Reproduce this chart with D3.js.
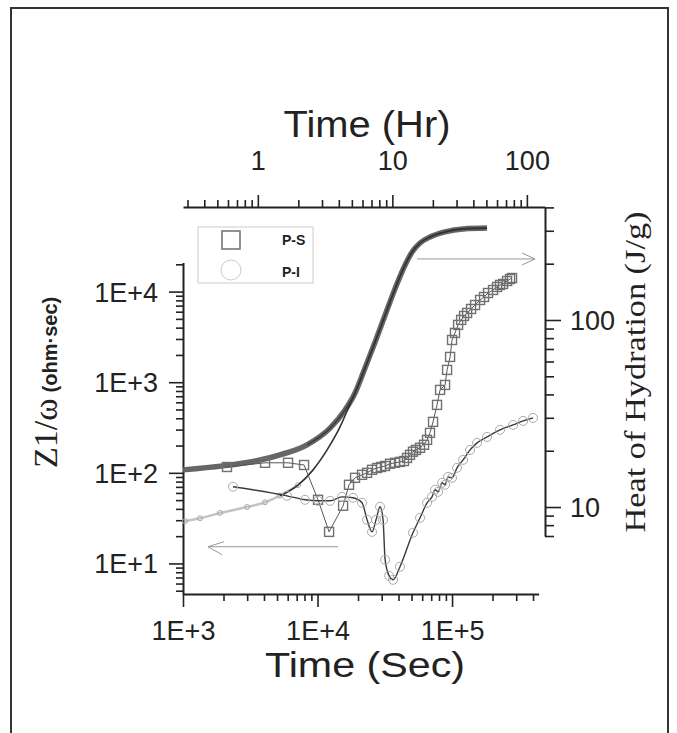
<!DOCTYPE html>
<html>
<head>
<meta charset="utf-8">
<script src="https://cdn.jsdelivr.net/npm/d3@7"></script>
<style>
  body { margin: 0; background: #fff; }
  svg { font-family: "Liberation Sans", Arial, sans-serif; }
  text { fill: #222; }
</style>
</head>
<body>
<svg id="chart" width="677" height="733"></svg>
<script>
// impedance Z1/w (ohm*sec) vs time (sec), P-S = squares
var psZ = [
  [2123,116],[4074,129],[6039,129],[7943,122],[10090,50.4],[12190,22.3],[15490,43.3],
  [17140,73.8],[19010,88.1],[21430,95],[23350,100],[25430,108],[27690,113],[29640,116],
  [31770,119],[34560,126],[37680,129],[41020,132],[43960,135],[46270,146],[48700,158],
  [51230,171],[53960,179],[57830,189],[61940,204],[65210,231],[68550,276],[72240,365],
  [77340,562],[81470,822],[88740,933],[91880,1367],[96700,1901],[100000,2924],
  [105200,3500],[110900,4290],[116800,4870],[122800,5380],[129400,5810],[138500,6430],
  [148300,7110],[161600,8080],[172900,8720],[185200,9650],[201800,10420],[216100,11250],
  [227400,11840],[239500,12140],[256400,13090],[270000,13770],[279200,14130]
];
// P-I = circles
var piZ = [
  [2355,70.2],[5929,55.7],[8070,50.4],[10090,49.1],[12390,49.1],[15210,54.3],[18370,53],
  [21430,46.7],[23350,30.3],[25430,22.3],[27230,30.3],[29170,42.2],[30710,30.3],
  [31790,11],[34040,7.3],[36430,6.6],[41020,9.2],[51230,21.8],[57830,31.9],[65210,46.7],
  [70960,54.3],[74750,65],[78750,61.7],[84320,77.6],[88740,73.8],[93400,90.3],
  [100000,88.1],[108900,113.5],[120800,139],[136200,179],[153500,214],[182100,249],
  [227400,298],[284400,338],[337500,374],[400000,404]
];
// heat of hydration (J/g) vs time (sec)
var psHeat = [
  [1000,15.8],[1985,16.6],[3150,17.4],[5260,19],[8360,21.5],[12390,26.4],[16020,33],
  [19010,40.7],[22550,55.4],[26790,76.3],[31770,106],[37680,147],[44770,197],
  [50470,231],[57830,258],[68600,278],[88740,296],[120800,307],[182000,310]
];
var piHeat = [
  [1035,8.4],[1337,8.7],[1884,9.3],[2994,10],[4074,10.6],[5262,11.5],[7160,13.1],
  [9270,15.8],[11780,20.2],[14700,26.8],[17450,35.5],[19010,40.7],[22550,55.4],
  [26790,76.3],[31770,106],[37680,147],[44770,197],[50470,231],[57830,258],
  [68600,278],[88740,296],[120800,307],[182000,310]
];

var bottomLabels = ["1E+3", "1E+4", "1E+5"];
var leftLabels = ["1E+1", "1E+2", "1E+3", "1E+4"];
var topLabels = ["1", "10", "100"];
var rightLabels = ["10", "100"];

var serif = "'Liberation Serif', 'Times New Roman', serif";
var svg = d3.select("#chart");

// frame
svg.append("rect").attr("x", 11).attr("y", 8).attr("width", 657).attr("height", 740)
  .attr("fill", "none").attr("stroke", "#333").attr("stroke-width", 2);

var x = d3.scaleLog().domain([1000, 440000]).range([183, 538.6]);
var xHr = d3.scaleLog().domain([1000 / 3600, 490000 / 3600]).range([183, x(490000)]);
var yL = d3.scaleLog().domain([4.6, 21000]).range([594, 262.4]);
var yR = d3.scaleLog().domain([7, 400]).range([536, 207.4]);

function isMajor(v) {
  var l = Math.log10(v);
  return Math.abs(l - Math.round(l)) < 1e-6;
}
function decade(v) { return Math.round(Math.log10(v)); }

function styleAxis(g) {
  g.attr("font-size", 27).attr("font-family", null);
  g.select(".domain").attr("stroke", "#222").attr("stroke-width", 2);
  g.selectAll(".tick line").attr("stroke", "#222").attr("stroke-width", 1.6);
  g.selectAll(".tick text").attr("fill", "#222");
}

// bottom axis
var gB = svg.append("g").attr("transform", "translate(0,594)")
  .call(d3.axisBottom(x).tickValues(x.ticks()).tickSize(7).tickSizeOuter(0)
    .tickFormat(function(d) { return isMajor(d) ? bottomLabels[decade(d) - 3] : ""; }));
styleAxis(gB);
gB.selectAll(".tick line").attr("y2", function(d) { return isMajor(d) ? 13 : 7; });
gB.selectAll(".tick text").attr("y", 46).attr("dy", 0);

// top axis (hours)
var gT = svg.append("g").attr("transform", "translate(0,207)")
  .call(d3.axisTop(xHr).tickValues(xHr.ticks()).tickSize(7).tickSizeOuter(0)
    .tickFormat(function(d) { return isMajor(d) ? topLabels[decade(d)] : ""; }));
styleAxis(gT);
gT.selectAll(".tick line").attr("y2", function(d) { return isMajor(d) ? -12 : -7; });
gT.selectAll(".tick text").attr("y", -37).attr("dy", 0);

// left axis
var gL = svg.append("g").attr("transform", "translate(183,0)")
  .call(d3.axisLeft(yL).tickValues(yL.ticks()).tickSize(7).tickSizeOuter(0)
    .tickFormat(function(d) { return isMajor(d) ? leftLabels[decade(d) - 1] : ""; }));
styleAxis(gL);
gL.selectAll(".tick line").attr("x2", function(d) { return isMajor(d) ? -14 : -7; });
gL.selectAll(".tick text").attr("x", -25).attr("dy", "0.35em");

// right axis
var gR = svg.append("g").attr("transform", "translate(545,0)")
  .call(d3.axisRight(yR).tickValues(yR.ticks()).tickSize(9).tickSizeOuter(0)
    .tickFormat(function(d) { return isMajor(d) ? rightLabels[decade(d) - 1] : ""; }));
styleAxis(gR);
gR.selectAll(".tick line").attr("x2", function(d) { return isMajor(d) ? 16 : 9; });
gR.selectAll(".tick text").attr("x", 25).attr("dy", "0.35em");

// axis titles
svg.append("text").attr("x", 367).attr("y", 137).attr("text-anchor", "middle")
  .attr("font-size", 36).attr("textLength", 167).attr("lengthAdjust", "spacingAndGlyphs")
  .text("Time (Hr)");
svg.append("text").attr("x", 365).attr("y", 677).attr("text-anchor", "middle")
  .attr("font-size", 35).attr("textLength", 200).attr("lengthAdjust", "spacingAndGlyphs")
  .text("Time (Sec)");

var lt = svg.append("text").attr("transform", "translate(57,468) rotate(-90)");
lt.append("tspan").style("font-family", serif).attr("font-size", 34).text("Z1/ω");
lt.append("tspan").attr("dx", 6).attr("font-size", 20).attr("font-weight", "bold")
  .text("(ohm·sec)");

svg.append("text").attr("transform", "translate(645,372) rotate(-90)")
  .attr("text-anchor", "middle").attr("font-size", 30).style("font-family", serif)
  .attr("textLength", 321).attr("lengthAdjust", "spacingAndGlyphs")
  .text("Heat of Hydration (J/g)");

// heat curves
var lineR = d3.line().curve(d3.curveMonotoneX)
  .x(function(d) { return x(d[0]); }).y(function(d) { return yR(d[1]); });
var lineL = d3.line()
  .x(function(d) { return x(d[0]); }).y(function(d) { return yL(d[1]); });

var piEarly = piHeat.filter(function(d) { return d[0] <= 7200; });
svg.append("path").attr("d", lineR(psHeat))
  .attr("fill", "none").attr("stroke", "#666").attr("stroke-width", 5.5);
svg.append("path").attr("d", lineR(psHeat.filter(function(d) { return d[0] >= 8000; })))
  .attr("fill", "none").attr("stroke", "#3a3a3a").attr("stroke-width", 1.5);
svg.append("path").attr("d", lineR(piEarly))
  .attr("fill", "none").attr("stroke", "#c4c4c4").attr("stroke-width", 2.5);
svg.selectAll(".piheat").data(piEarly).enter().append("circle")
  .attr("cx", function(d) { return x(d[0]); }).attr("cy", function(d) { return yR(d[1]); })
  .attr("r", 2.5).attr("fill", "none").attr("stroke", "#aaa");
svg.append("path").attr("d", lineR(piHeat.filter(function(d) { return d[0] >= 5262; })))
  .attr("fill", "none").attr("stroke", "#333").attr("stroke-width", 1.6);

// impedance curves
svg.append("path").attr("d", lineL(psZ))
  .attr("fill", "none").attr("stroke", "#555").attr("stroke-width", 1);
svg.selectAll(".psz").data(psZ).enter().append("rect")
  .attr("x", function(d) { return x(d[0]) - 4.5; }).attr("y", function(d) { return yL(d[1]) - 4.5; })
  .attr("width", 9).attr("height", 9)
  .attr("fill", "none").attr("stroke", "#707070").attr("stroke-width", 1.4);

svg.append("path").attr("d", lineL.curve(d3.curveMonotoneX)(piZ))
  .attr("fill", "none").attr("stroke", "#3a3a3a").attr("stroke-width", 1.4);
svg.selectAll(".piz").data(piZ).enter().append("circle")
  .attr("cx", function(d) { return x(d[0]); }).attr("cy", function(d) { return yL(d[1]); })
  .attr("r", 4.5).attr("fill", "none").attr("stroke", "#aaa").attr("stroke-width", 1);

// arrows (data coordinates)
var arrowRight = { t0: 55000, t1: 414000, v: 212 };
var arrowLeft = { t0: 1534, t1: 14200, v: 15.3 };
var ar = yR(arrowRight.v), ax1 = x(arrowRight.t1);
svg.append("path")
  .attr("d", "M" + x(arrowRight.t0) + "," + ar + "H" + ax1 +
    "M" + (ax1 - 13) + "," + (ar - 6) + "L" + ax1 + "," + ar + "L" + (ax1 - 13) + "," + (ar + 6))
  .attr("fill", "none").attr("stroke", "#999").attr("stroke-width", 1);
var al = yL(arrowLeft.v), ax0 = x(arrowLeft.t0);
svg.append("path")
  .attr("d", "M" + x(arrowLeft.t1) + "," + al + "H" + ax0 +
    "M" + (ax0 + 16) + "," + (al - 5) + "L" + ax0 + "," + al + "L" + (ax0 + 14) + "," + (al + 8))
  .attr("fill", "none").attr("stroke", "#999").attr("stroke-width", 1);

// legend
var lg = svg.append("g");
lg.append("rect").attr("x", 198).attr("y", 227).attr("width", 115).attr("height", 56)
  .attr("fill", "#fff").attr("stroke", "#ccc").attr("stroke-width", 1);
lg.append("rect").attr("x", 222).attr("y", 231).attr("width", 18).attr("height", 18)
  .attr("fill", "none").attr("stroke", "#777").attr("stroke-width", 1.6);
lg.append("circle").attr("cx", 231).attr("cy", 270).attr("r", 10)
  .attr("fill", "none").attr("stroke", "#ccc").attr("stroke-width", 1);
lg.append("text").attr("x", 282).attr("y", 245).attr("font-size", 14).attr("font-weight", "bold").text("P-S");
lg.append("text").attr("x", 282).attr("y", 277).attr("font-size", 14).attr("font-weight", "bold").text("P-I");
</script>
</body>
</html>
